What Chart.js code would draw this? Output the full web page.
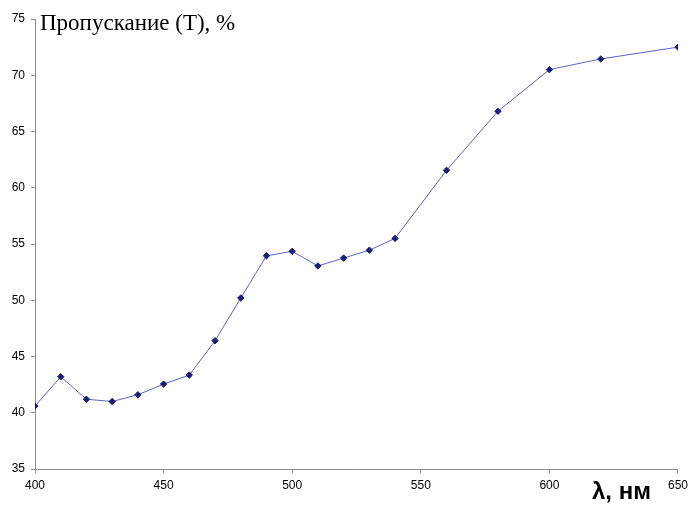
<!DOCTYPE html>
<html>
<head>
<meta charset="utf-8">
<script src="https://cdn.jsdelivr.net/npm/chart.js@4"></script>
<style>
  html, body { margin: 0; padding: 0; background: #fff; }
  #wrap { width: 693px; height: 505px; position: relative; }
</style>
</head>
<body>
<div id="wrap"><canvas id="chart"></canvas></div>
<script>
// длина волны, нм
const wavelengths = [400, 410, 420, 430, 440, 450, 460, 470, 480, 490, 500, 510, 520, 530, 540, 560, 580, 600, 620, 650];
// пропускание T, %
const transmission = [40.6, 43.2, 41.2, 41.0, 41.6, 42.55, 43.35, 46.4, 50.2, 53.95, 54.35, 53.05, 53.75, 54.45, 55.5, 61.55, 66.8, 70.5, 71.45, 72.5];
const xTicks = [400, 450, 500, 550, 600, 650];
const yTicks = [35, 40, 45, 50, 55, 60, 65, 70, 75];

const yTitle = "Пропускание (T), %";
const xTitle = "λ, нм";

// подписи осей рисуем сами
const titlesPlugin = {
  id: "titles",
  afterDraw(chart) {
    const ctx = chart.ctx;
    const area = chart.chartArea;
    ctx.save();
    ctx.fillStyle = "#000";
    ctx.textBaseline = "alphabetic";
    ctx.textAlign = "left";
    ctx.font = "23px 'Liberation Serif', 'Times New Roman', serif";
    ctx.fillText(yTitle, area.left + 5, area.top + 11);
    ctx.font = "bold 24px 'Liberation Sans', Arial, sans-serif";
    ctx.fillText(xTitle, area.left + 557, area.bottom + 30);
    ctx.restore();
  }
};

const ctx = document.getElementById("chart").getContext("2d");
new Chart(ctx, {
  type: "line",
  data: {
    datasets: [{
      data: wavelengths.map((w, i) => ({ x: w, y: transmission[i] })),
      borderColor: "#5b63c6",
      borderWidth: 1,
      pointStyle: "rectRot",
      pointRadius: 3.2,
      pointBackgroundColor: "#1c1c78",
      pointBorderColor: "#1c1c78",
      pointBorderWidth: 1,
      tension: 0
    }]
  },
  options: {
    responsive: true,
    maintainAspectRatio: false,
    animation: false,
    layout: { padding: { top: 19, right: 13, left: 0, bottom: 0 } },
    plugins: { legend: { display: false }, tooltip: { enabled: false } },
    scales: {
      x: {
        type: "linear",
        min: 400,
        max: 650,
        afterFit(scale) { scale.height = 36; },
        afterBuildTicks(scale) { scale.ticks = xTicks.map(v => ({ value: v })); },
        grid: { drawOnChartArea: false, drawTicks: true, tickLength: 4, color: "#8c8c8c" },
        border: { color: "#8c8c8c", width: 1 },
        ticks: {
          color: "#000",
          padding: 5,
          maxRotation: 0,
          font: { family: "'Liberation Sans', Arial, sans-serif", size: 12 }
        }
      },
      y: {
        min: 35,
        max: 75,
        afterFit(scale) { scale.width = 35; },
        afterBuildTicks(scale) { scale.ticks = yTicks.map(v => ({ value: v })); },
        grid: { drawOnChartArea: false, drawTicks: true, tickLength: 4, color: "#8c8c8c" },
        border: { color: "#8c8c8c", width: 1 },
        ticks: {
          color: "#000",
          padding: 6,
          font: { family: "'Liberation Sans', Arial, sans-serif", size: 12 }
        }
      }
    }
  },
  plugins: [titlesPlugin]
});
</script>
</body>
</html>
